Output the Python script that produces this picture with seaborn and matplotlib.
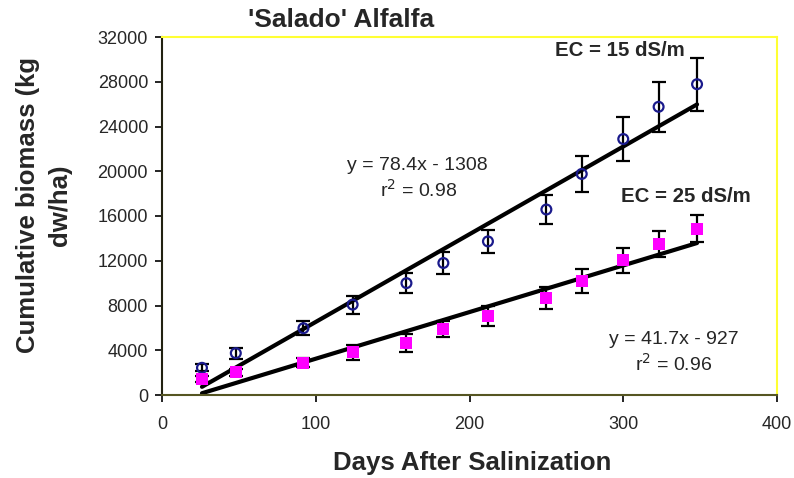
import matplotlib
matplotlib.use("Agg")
import matplotlib.pyplot as plt
import seaborn as sns
import numpy as np
import pandas as pd

# ---- data ----
days = [26, 48, 92, 124, 159, 183, 212, 250, 273, 300, 323, 348]
ec15 = [2430, 3740, 5970, 8080, 10000, 11800, 13730, 16580, 19760, 22880, 25760, 27780]
ec15_err = [300, 480, 620, 800, 890, 950, 1040, 1260, 1600, 1960, 2230, 2380]
ec25 = [1430, 2020, 2880, 3800, 4630, 5880, 7040, 8670, 10190, 12030, 13520, 14850]
ec25_err = [250, 300, 420, 650, 830, 710, 890, 1010, 1090, 1120, 1160, 1200]
fit15 = (78.4, -1308)
fit25 = (41.7, -927)
xticks = [0, 100, 200, 300, 400]
yticks = [0, 4000, 8000, 12000, 16000, 20000, 24000, 28000, 32000]

sns.set_theme(style="white")
plt.rcParams['font.family'] = ['Liberation Sans', 'DejaVu Sans']

fig = plt.figure(figsize=(7.94, 4.78), dpi=100)
ax = fig.add_axes([162/794, 1-395/478, (777-162)/794, (395-37)/478])

df = pd.DataFrame({"days": days + days,
                   "biomass": ec15 + ec25,
                   "err": ec15_err + ec25_err,
                   "EC": ["15"] * len(days) + ["25"] * len(days)})

# regression lines from the printed equations
xs = np.array([min(days), max(days)])
for (m, b) in (fit15, fit25):
    sns.lineplot(x=xs, y=m * xs + b, ax=ax, color="black", lw=3, zorder=2)

# error bars
ax.errorbar(days, ec15, yerr=ec15_err, fmt="none", ecolor="black",
            elinewidth=1.6, capsize=5, capthick=1.6, zorder=3)
ax.errorbar(days, ec25, yerr=ec25_err, fmt="none", ecolor="black",
            elinewidth=1.6, capsize=5, capthick=1.6, zorder=3)

d15 = df[df.EC == "15"]
d25 = df[df.EC == "25"]
sns.scatterplot(data=d15, x="days", y="biomass", ax=ax, marker="o", s=50,
                facecolor="none", edgecolor="#1a1a8c", linewidth=1.6, zorder=4)
sns.scatterplot(data=d25, x="days", y="biomass", ax=ax, marker="s", s=75,
                color="#ff00ff", edgecolor="#ff00ff", linewidth=0, zorder=4)

ax.set_xlim(0, 400)
ax.set_ylim(0, 32000)
ax.set_xticks(xticks)
ax.set_yticks(yticks)
ax.set_xticklabels([str(v) for v in xticks])
ax.set_yticklabels([str(v) for v in yticks])
ax.tick_params(axis="both", which="major", labelsize=13, direction="out",
               length=5, width=1.2, color="black", bottom=True, left=True)
ax.tick_params(axis="x", pad=10)
ax.tick_params(axis="y", pad=5)

for s in ("top", "right"):
    ax.spines[s].set_color("#ffff33")
    ax.spines[s].set_linewidth(1.5)
ax.spines["left"].set_color("#222211")
ax.spines["bottom"].set_color("#555522")
ax.spines["left"].set_linewidth(1.5)
ax.spines["bottom"].set_linewidth(1.5)

ax.set_xlabel("Days After Salinization", fontsize=18.5, fontweight="bold")
ax.xaxis.label.set_va("center")
ax.xaxis.set_label_coords(0.504, -0.19)
ax.set_ylabel("Cumulative biomass (kg\ndw/ha)", fontsize=18.5,
              fontweight="bold", linespacing=1.4)
ax.yaxis.label.set_va("center")
ax.yaxis.set_label_coords(-0.192, 0.53)

fig.text(341/794, 1-20/478, "'Salado' Alfalfa", ha="center", va="center",
         fontsize=19, fontweight="bold")

def px(x, y):
    return (x/794, 1-y/478)

fig.text(*px(620, 51), "EC = 15 dS/m", ha="center", va="center",
         fontsize=14.7, fontweight="bold")
fig.text(*px(686, 197), "EC = 25 dS/m", ha="center", va="center",
         fontsize=14.7, fontweight="bold")
fig.text(*px(417, 165), "y = 78.4x - 1308", ha="center", va="center",
         fontsize=14)
fig.text(*px(419, 190), "r$^2$ = 0.98", ha="center", va="center",
         fontsize=14)
fig.text(*px(674, 339), "y = 41.7x - 927", ha="center", va="center",
         fontsize=14)
fig.text(*px(674, 364), "r$^2$ = 0.96", ha="center", va="center",
         fontsize=14)

fig.savefig("out.png", dpi=100)
